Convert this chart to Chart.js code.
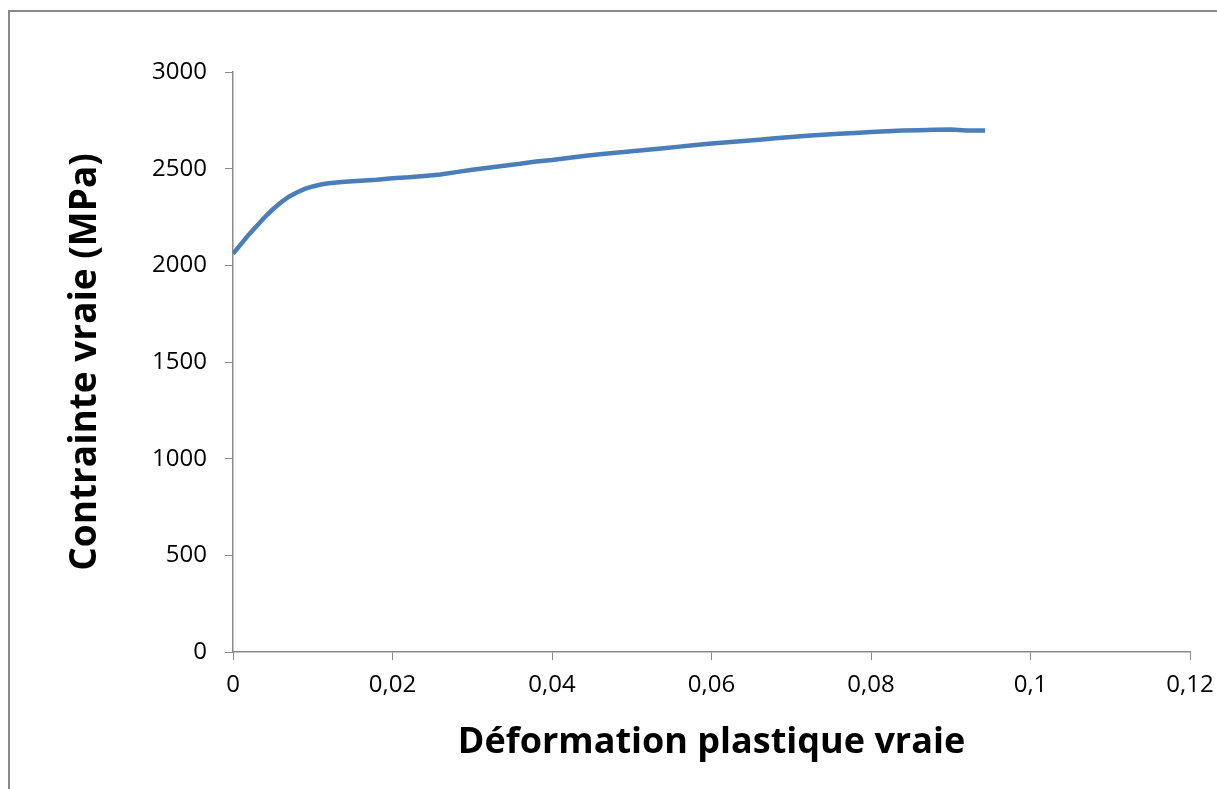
<!DOCTYPE html>
<html>
<head>
<meta charset="utf-8">
<script src="https://cdn.jsdelivr.net/npm/chart.js@4"></script>
<style>
    html, body { margin: 0; padding: 0; background: #fff; overflow: hidden; }
    #wrap { position: relative; width: 1217px; height: 789px; }
</style>
</head>
<body>
<div id="wrap"><canvas id="stressChart" width="1217" height="789"></canvas></div>
<script>
const strain = [0, 0.001, 0.002, 0.003, 0.004, 0.005, 0.006, 0.007, 0.008, 0.009, 0.010, 0.011, 0.012,
    0.014, 0.016, 0.018, 0.020, 0.022, 0.024, 0.026, 0.028, 0.030, 0.032, 0.034, 0.036, 0.038,
    0.040, 0.042, 0.044, 0.046, 0.048, 0.050, 0.052, 0.054, 0.056, 0.058, 0.060, 0.062, 0.064,
    0.066, 0.068, 0.070, 0.072, 0.074, 0.076, 0.078, 0.080, 0.082, 0.084, 0.086, 0.088, 0.090,
    0.092, 0.0943];
const stress = [2060, 2110, 2160, 2205, 2250, 2290, 2325, 2355, 2377, 2395, 2408, 2418, 2425,
    2432, 2438, 2443, 2450, 2455, 2462, 2470, 2482, 2494, 2505, 2515, 2525, 2537,
    2545, 2555, 2565, 2574, 2582, 2590, 2598, 2606, 2614, 2622, 2630, 2637, 2643,
    2650, 2657, 2664, 2670, 2676, 2680, 2685, 2690, 2694, 2697, 2699, 2701, 2702,
    2698, 2698];
const xTicks = [0, 0.02, 0.04, 0.06, 0.08, 0.1, 0.12];
const yTicks = [0, 500, 1000, 1500, 2000, 2500, 3000];

const axisGrey = '#898989';
const frClean = v => String(Math.round(v * 1000) / 1000).replace('.', ',');

// grey frame round the chart
const framePlugin = {
    id: 'frame',
    beforeDraw(chart) {
        const ctx = chart.ctx;
        ctx.save();
        ctx.strokeStyle = axisGrey;
        ctx.lineWidth = 2;
        ctx.strokeRect(9, 11, 1400, 1000);
        ctx.restore();
    }
};

const ctx = document.getElementById('stressChart').getContext('2d');
new Chart(ctx, {
    type: 'scatter',
    data: {
        datasets: [{
            data: strain.map((s, i) => ({ x: s, y: stress[i] })),
            showLine: true,
            borderColor: '#4A7EBB',
            borderWidth: 4.5,
            pointRadius: 0,
            tension: 0
        }]
    },
    options: {
        responsive: false,
        animation: false,
        layout: { padding: { left: 0, top: 72, right: 27, bottom: 0 } },
        plugins: {
            legend: { display: false },
            tooltip: { enabled: false }
        },
        scales: {
            x: {
                type: 'linear',
                min: 0,
                max: 0.12,
                afterBuildTicks: scale => { scale.ticks = xTicks.map(v => ({ value: v })); },
                afterFit: scale => {
                    scale.height = 137;
                    scale.paddingLeft = 0;
                    scale.paddingRight = 0;
                },
                grid: { drawOnChartArea: false, drawTicks: true, tickLength: 8, color: axisGrey },
                border: { color: axisGrey, width: 1.5 },
                ticks: {
                    callback: v => frClean(v),
                    color: '#000',
                    padding: 11,
                    maxRotation: 0,
                    font: { family: 'Open Sans', size: 24 }
                },
                title: {
                    display: true,
                    text: 'Déformation plastique vraie',
                    color: '#000',
                    padding: { top: 0, bottom: 25 },
                    font: { family: 'Open Sans', size: 36, weight: 'bold' }
                }
            },
            y: {
                min: 0,
                max: 3000,
                afterBuildTicks: scale => { scale.ticks = yTicks.map(v => ({ value: v })); },
                afterFit: scale => { scale.width = 233; },
                grid: { drawOnChartArea: false, drawTicks: true, tickLength: 8, color: axisGrey },
                border: { color: axisGrey, width: 1.5 },
                ticks: {
                    callback: v => String(v),
                    color: '#000',
                    padding: 18,
                    font: { family: 'Open Sans', size: 24 }
                },
                title: {
                    display: true,
                    text: 'Contrainte vraie (MPa)',
                    color: '#000',
                    padding: { top: 63, bottom: 0 },
                    font: { family: 'Open Sans', size: 37, weight: 'bold' }
                }
            }
        }
    },
    plugins: [framePlugin]
});
</script>
</body>
</html>
